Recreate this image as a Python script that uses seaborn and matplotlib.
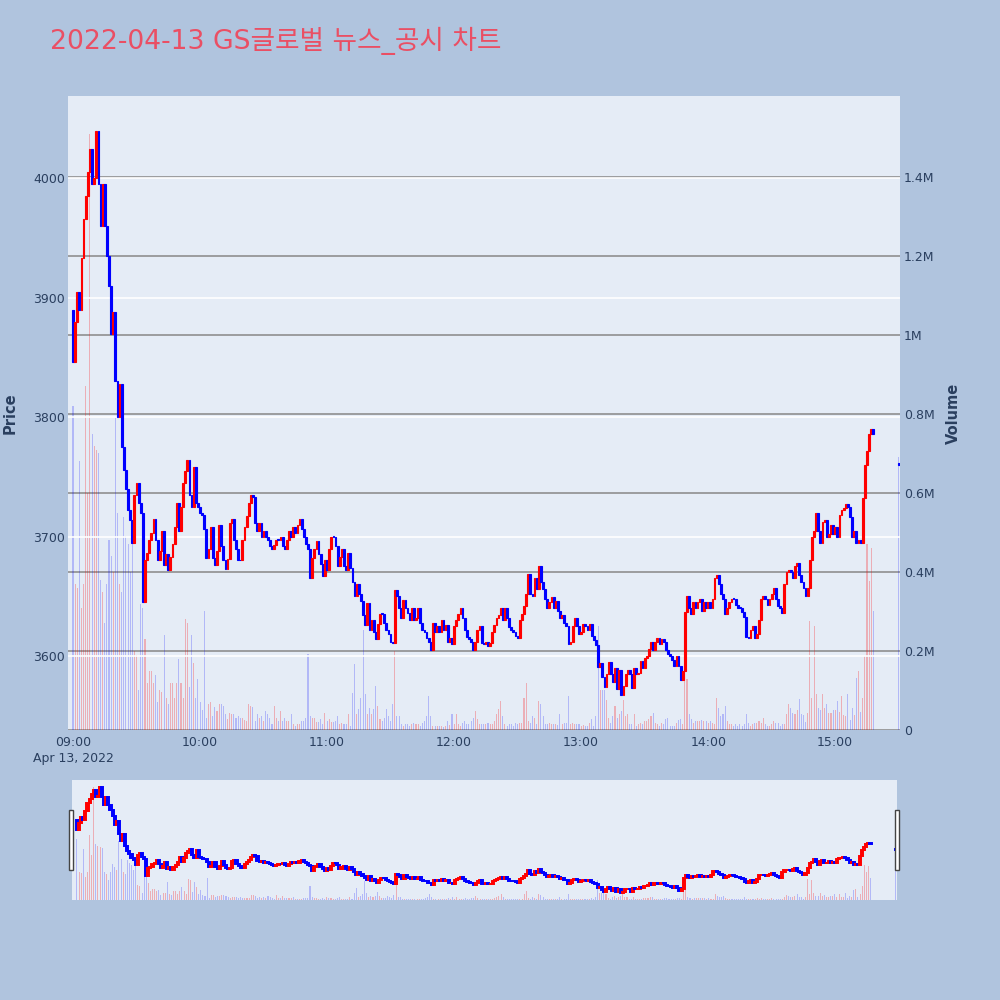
import numpy as np
import pandas as pd
import matplotlib
matplotlib.use("Agg")
import matplotlib.pyplot as plt
import matplotlib.dates as mdates
from matplotlib.patches import Rectangle
import seaborn as sns

sns.set_theme(style="white")
plt.rcParams["font.family"] = ["DejaVu Sans", "Noto Sans CJK KR"]

TITLE = "2022-04-13 GS글로벌 뉴스_공시 차트"
SESSION_START = "2022-04-13 09:00"

# price at 09:00 open, then the close of every minute 09:00 .. 15:18
FIRST_OPEN = 3890
CLOSES = [
    3846, 3880, 3905, 3890, 3933, 3966, 3985, 4005, 4025, 3995, 4000, 4040, 3995, 3960, 3995, 3960, 3935, 3910, 3870, 3888,
    3830, 3800, 3828, 3775, 3756, 3740, 3722, 3714, 3695, 3735, 3745, 3728, 3720, 3645, 3680, 3686, 3697, 3703, 3715, 3697,
    3680, 3688, 3705, 3676, 3685, 3672, 3683, 3694, 3708, 3728, 3705, 3725, 3745, 3755, 3764, 3735, 3725, 3758, 3728, 3725,
    3720, 3718, 3706, 3682, 3690, 3708, 3682, 3676, 3688, 3710, 3692, 3680, 3673, 3681, 3711, 3715, 3697, 3690, 3680, 3680,
    3697, 3708, 3717, 3728, 3735, 3733, 3711, 3705, 3711, 3700, 3705, 3700, 3697, 3692, 3690, 3693, 3697, 3697, 3700, 3692,
    3690, 3697, 3705, 3700, 3708, 3703, 3710, 3715, 3706, 3700, 3694, 3690, 3665, 3682, 3690, 3696, 3685, 3677, 3667, 3680,
    3672, 3690, 3700, 3700, 3692, 3675, 3683, 3690, 3675, 3672, 3686, 3674, 3662, 3650, 3660, 3652, 3646, 3634, 3626, 3644,
    3622, 3630, 3620, 3614, 3627, 3635, 3635, 3628, 3622, 3618, 3612, 3611, 3655, 3650, 3640, 3632, 3647, 3640, 3636, 3630,
    3640, 3630, 3632, 3640, 3628, 3622, 3620, 3615, 3612, 3605, 3628, 3620, 3625, 3620, 3630, 3622, 3626, 3612, 3615, 3610,
    3625, 3630, 3635, 3640, 3632, 3622, 3616, 3614, 3612, 3605, 3612, 3622, 3625, 3611, 3610, 3612, 3608, 3611, 3620, 3626,
    3632, 3634, 3640, 3630, 3640, 3632, 3624, 3622, 3620, 3617, 3615, 3630, 3635, 3642, 3652, 3669, 3652, 3650, 3665, 3656,
    3675, 3662, 3656, 3648, 3640, 3645, 3649, 3640, 3646, 3638, 3632, 3634, 3628, 3625, 3610, 3612, 3625, 3632, 3625, 3618,
    3620, 3627, 3625, 3622, 3627, 3617, 3613, 3609, 3591, 3594, 3582, 3574, 3585, 3595, 3585, 3578, 3590, 3572, 3588, 3567,
    3575, 3585, 3588, 3585, 3573, 3590, 3585, 3586, 3596, 3590, 3598, 3600, 3606, 3612, 3605, 3612, 3615, 3610, 3614, 3612,
    3605, 3602, 3600, 3597, 3592, 3600, 3592, 3580, 3587, 3637, 3650, 3640, 3635, 3645, 3640, 3645, 3648, 3638, 3645, 3640,
    3645, 3640, 3648, 3665, 3668, 3660, 3652, 3648, 3635, 3640, 3645, 3648, 3648, 3643, 3640, 3640, 3637, 3633, 3616, 3615,
    3622, 3625, 3615, 3618, 3630, 3648, 3650, 3648, 3643, 3648, 3652, 3657, 3648, 3642, 3640, 3636, 3660, 3670, 3672, 3670,
    3665, 3675, 3678, 3668, 3662, 3657, 3650, 3657, 3680, 3700, 3705, 3720, 3705, 3695, 3712, 3714, 3700, 3702, 3710, 3702,
    3708, 3700, 3718, 3722, 3724, 3727, 3725, 3716, 3700, 3705, 3695, 3697, 3695, 3732, 3760, 3772, 3786, 3790, 3786,
]

# traded volume per minute, thousands of shares
VOLUMES_K = [
    820, 370, 360, 680, 310, 370, 870, 600, 1510, 750, 720, 710, 700, 380, 350, 270, 370, 480, 440, 400,
    790, 550, 370, 350, 540, 490, 470, 400, 470, 200, 190, 100, 320, 310, 230, 120, 150, 150, 120, 140,
    70, 100, 95, 240, 80, 65, 120, 120, 80, 120, 180, 120, 80, 280, 270, 110, 240, 170, 80, 130,
    70, 50, 300, 30, 65, 70, 35, 57, 48, 65, 65, 60, 40, 27, 44, 40, 40, 30, 35, 30,
    30, 25, 23, 65, 61, 57, 23, 40, 31, 35, 23, 48, 40, 31, 14, 61, 31, 23, 48, 23,
    31, 23, 23, 40, 14, 10, 14, 14, 23, 23, 31, 193, 35, 31, 31, 19, 19, 27, 14, 44,
    23, 27, 19, 19, 23, 35, 14, 18, 16, 14, 40, 10, 94, 166, 41, 52, 82, 254, 90, 40,
    56, 41, 52, 111, 60, 27, 22, 30, 52, 35, 22, 65, 200, 35, 35, 14, 10, 14, 16, 10,
    14, 18, 14, 16, 10, 18, 22, 35, 85, 35, 10, 10, 10, 10, 10, 8, 10, 22, 12, 40,
    14, 40, 14, 10, 18, 22, 14, 16, 22, 31, 48, 27, 16, 14, 14, 14, 18, 14, 14, 22,
    40, 52, 74, 35, 14, 10, 14, 16, 10, 18, 14, 18, 18, 82, 120, 22, 18, 35, 31, 16,
    74, 65, 35, 16, 14, 18, 14, 16, 14, 12, 40, 16, 18, 18, 85, 14, 18, 14, 14, 14,
    10, 12, 10, 10, 18, 27, 10, 35, 263, 100, 100, 100, 75, 31, 18, 35, 60, 31, 40, 48,
    77, 35, 40, 14, 14, 40, 10, 14, 18, 14, 22, 22, 27, 35, 44, 18, 14, 10, 18, 14,
    27, 31, 10, 10, 10, 18, 25, 28, 14, 124, 130, 40, 28, 18, 22, 24, 22, 26, 22, 22,
    18, 22, 18, 14, 82, 56, 35, 40, 60, 22, 14, 14, 10, 14, 10, 14, 10, 14, 40, 18,
    10, 14, 18, 18, 22, 18, 31, 14, 10, 10, 14, 22, 18, 18, 10, 14, 14, 40, 65, 56,
    44, 40, 50, 78, 40, 38, 20, 42, 276, 80, 263, 90, 55, 50, 90, 55, 65, 42, 42, 50,
    50, 74, 46, 86, 38, 35, 90, 25, 56, 38, 132, 150, 46, 80, 187, 470, 377, 460, 300,
]

# closing auction print
AUCTION_TIME = "2022-04-13 15:30"
AUCTION_OPEN = 3762
AUCTION_CLOSE = 3760
AUCTION_VOLUME_K = 690

PRICE_TICKS = [3600, 3700, 3800, 3900, 4000]
VOLUME_TICKS_M = [0, 0.2, 0.4, 0.6, 0.8, 1.0, 1.2, 1.4]
VOLUME_TICK_LABELS = ["0", "0.2M", "0.4M", "0.6M", "0.8M", "1M", "1.2M", "1.4M"]
HOUR_TICKS = ["09:00", "10:00", "11:00", "12:00", "13:00", "14:00", "15:00"]

UP, DOWN = "#ff0000", "#0000ff"
FIG_BG, PLOT_BG = "#b0c4de", "#e5ecf6"
TEXT = "#2a3f5f"
MINUTE = 1 / 1440


def build_frame():
    times = list(pd.date_range(SESSION_START, periods=len(CLOSES), freq="min"))
    df = pd.DataFrame({
        "time": times + [pd.Timestamp(AUCTION_TIME)],
        "open": [FIRST_OPEN] + CLOSES[:-1] + [AUCTION_OPEN],
        "close": CLOSES + [AUCTION_CLOSE],
        "volume": np.array(VOLUMES_K + [AUCTION_VOLUME_K]) * 1000,
    })
    df["x"] = mdates.date2num(df["time"])
    df["up"] = df["close"] > df["open"]
    df["color"] = np.where(df["up"], UP, DOWN)
    return df


def draw_volume(ax, df, width):
    for up, col, alpha in [(True, UP, 0.26), (False, DOWN, 0.22)]:
        d = df[df["up"] == up]
        ax.bar(d["x"], d["volume"], width=width * MINUTE, color=col, alpha=alpha, linewidth=0)


def draw_candles(ax, df, width, lw):
    lo = np.minimum(df["open"], df["close"])
    h = np.maximum((df["close"] - df["open"]).abs(), 0.8)
    ax.bar(df["x"], h, bottom=lo, width=width * MINUTE, color=df["color"],
           edgecolor=df["color"], linewidth=lw)


def main():
    df = build_frame()
    day0 = mdates.date2num(pd.Timestamp(SESSION_START))
    xlim = (day0 - 2.36 * MINUTE, day0 + 390.6 * MINUTE)
    price_lim = (3538, 4069)
    vol_lim = (0, 1.605e6)

    fig = plt.figure(figsize=(10, 10), dpi=100, facecolor=FIG_BG)
    fig.text(0.05, 0.959, TITLE, fontsize=19.2, color="#ea4f64", ha="left", va="center")

    # main panel: volume underneath, candles on the twin axis
    ax_vol = fig.add_axes([0.068, 0.270, 0.832, 0.634])
    ax_vol.set_facecolor(PLOT_BG)
    ax = ax_vol.twinx()

    draw_volume(ax_vol, df, 0.5)
    draw_candles(ax, df, 0.85, 0.8)

    ax_vol.set_xlim(xlim)
    ax_vol.set_ylim(vol_lim)
    ax.set_ylim(price_lim)

    ax_vol.yaxis.tick_right()
    ax_vol.set_yticks([v * 1e6 for v in VOLUME_TICKS_M])
    ax_vol.set_yticklabels(VOLUME_TICK_LABELS)
    ax_vol.grid(axis="y", color="#8f8f8f", linewidth=1.2)
    ax_vol.grid(axis="x", visible=False)

    ax.yaxis.tick_left()
    ax.set_yticks(PRICE_TICKS)
    ax.set_yticklabels([str(p) for p in PRICE_TICKS])
    ax.grid(axis="y", color="white", linewidth=1.2)
    ax.grid(axis="x", visible=False)

    hours = [mdates.date2num(pd.Timestamp("2022-04-13 " + h)) for h in HOUR_TICKS]
    labels = [HOUR_TICKS[0] + "\nApr 13, 2022"] + HOUR_TICKS[1:]
    ax_vol.set_xticks(hours)
    ax_vol.set_xticklabels(labels, linespacing=1.3)

    for a in (ax_vol, ax):
        for s in a.spines.values():
            s.set_visible(False)
        a.tick_params(length=0, labelsize=9, labelcolor=TEXT)
    ax_vol.tick_params(axis="x", pad=4)
    ax_vol.tick_params(axis="y", pad=3)
    ax.tick_params(axis="y", pad=2)

    fig.text(0.010, 0.587, "Price", rotation=90, fontsize=10.5, fontweight="bold",
             color=TEXT, ha="center", va="center")
    fig.text(0.953, 0.587, "Volume", rotation=90, fontsize=10.5, fontweight="bold",
             color=TEXT, ha="center", va="center")

    # range slider preview
    ax_s = fig.add_axes([0.072, 0.100, 0.825, 0.120])
    ax_s.set_facecolor(PLOT_BG)
    ax_s2 = ax_s.twinx()
    draw_volume(ax_s, df, 0.5)
    draw_candles(ax_s2, df, 1.0, 1.4)
    ax_s.set_xlim(xlim)
    ax_s.set_ylim(vol_lim)
    ax_s2.set_ylim(price_lim)
    for a in (ax_s, ax_s2):
        a.set_xticks([])
        a.set_yticks([])
        a.grid(False)
        for s in a.spines.values():
            s.set_visible(False)

    for left in (69, 895):
        fig.add_artist(Rectangle((left / 1000, 1 - 870 / 1000), 4 / 1000, 60 / 1000,
                                 transform=fig.transFigure, facecolor="white",
                                 edgecolor="#444444", linewidth=1))

    fig.savefig("out.png", dpi=100, facecolor=FIG_BG)


if __name__ == "__main__":
    main()
